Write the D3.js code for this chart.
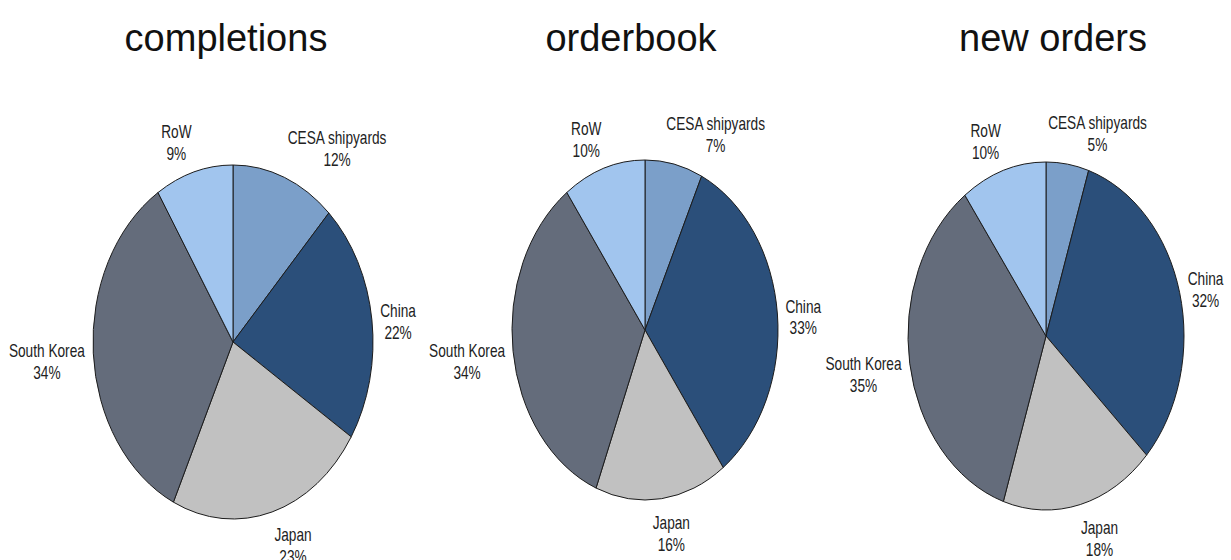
<!DOCTYPE html>
<html>
<head>
<meta charset="utf-8">
<script src="https://cdn.jsdelivr.net/npm/d3@7"></script>
<style>
  body { margin: 0; background: #fff; }
  svg { display: block; }
</style>
</head>
<body>
<svg id="chart"></svg>
<script>
const width = 1231;
const height = 560;

// data
const categories = ['CESA shipyards', 'China', 'Japan', 'South Korea', 'RoW'];
const titles = ['completions', 'orderbook', 'new orders'];
const completions = [12, 22, 23, 34, 9];
const orderbook = [7, 33, 16, 34, 10];
const newOrders = [5, 32, 18, 35, 10];
const sliceColors = ['#7b9fc9', '#2b4f7a', '#c1c1c1', '#646c7b', '#a1c5ee'];

const series = [completions, orderbook, newOrders];

// layout of the three (stretched) pies
const panels = [
    { cx: 233, cy: 342, rx: 140, ry: 177, titleX: 226 },
    { cx: 645, cy: 330, rx: 133, ry: 170, titleX: 631 },
    { cx: 1046, cy: 336, rx: 138, ry: 174, titleX: 1053 }
];

const R = 100;
const labelFactor = 1.06;
const lineGap = 22;
const boxH = 40;
const squeeze = 0.76; // labels use a condensed face in the original

const svg = d3.select('#chart')
    .attr('width', width)
    .attr('height', height);

svg.append('rect')
    .attr('width', width)
    .attr('height', height)
    .attr('fill', '#fff');

const pie = d3.pie()
    .sort(null)
    .value(d => d.value);

const arc = d3.arc()
    .innerRadius(0)
    .outerRadius(R);

const color = d3.scaleOrdinal()
    .domain(categories)
    .range(sliceColors);

series.forEach((values, i) => {
    const p = panels[i];
    const rows = categories.map((c, j) => ({ name: c, value: values[j] }));
    const arcs = pie(rows);

    svg.append('text')
        .attr('x', p.titleX)
        .attr('y', 51)
        .attr('text-anchor', 'middle')
        .style('font-family', '"Liberation Sans", Arial, sans-serif')
        .style('font-size', '38px')
        .attr('fill', '#111')
        .text(titles[i]);

    const g = svg.append('g')
        .attr('transform', `translate(${p.cx},${p.cy}) scale(${p.rx / R},${p.ry / R})`);

    g.selectAll('path')
        .data(arcs)
        .enter()
        .append('path')
            .attr('d', arc)
            .attr('fill', d => color(d.data.name))
            .attr('stroke', '#1c1c1c')
            .attr('stroke-width', 1)
            .attr('vector-effect', 'non-scaling-stroke');

    arcs.forEach(d => {
        const a = (d.startAngle + d.endAngle) / 2;
        const s = Math.sin(a);
        const c = Math.cos(a);
        const px = p.cx + s * p.rx * labelFactor;
        const py = p.cy - c * p.ry * labelFactor;

        const lg = svg.append('g');
        const t = lg.append('text')
            .attr('text-anchor', 'middle')
            .style('font-family', '"Liberation Sans", Arial, sans-serif')
            .style('font-size', '18px')
            .attr('fill', '#222');
        const t1 = t.append('tspan').attr('x', 0).attr('y', 15).text(d.data.name);
        const t2 = t.append('tspan').attr('x', 0).attr('y', 15 + lineGap).text(d.data.value + '%');
        const w = squeeze * Math.max(t1.node().getComputedTextLength(), t2.node().getComputedTextLength());

        const kx = Math.max(-1, Math.min(1, s * 3.7));
        const centerX = px + kx * w / 2;
        const centerY = py - c * boxH / 2 + 7 * (1 - Math.max(c, 0)) - 2 * Math.max(-c, 0);
        const top = centerY - boxH / 2;

        lg.attr('transform', `translate(${centerX},${top}) scale(${squeeze},1)`);
    });
});
</script>
</body>
</html>
